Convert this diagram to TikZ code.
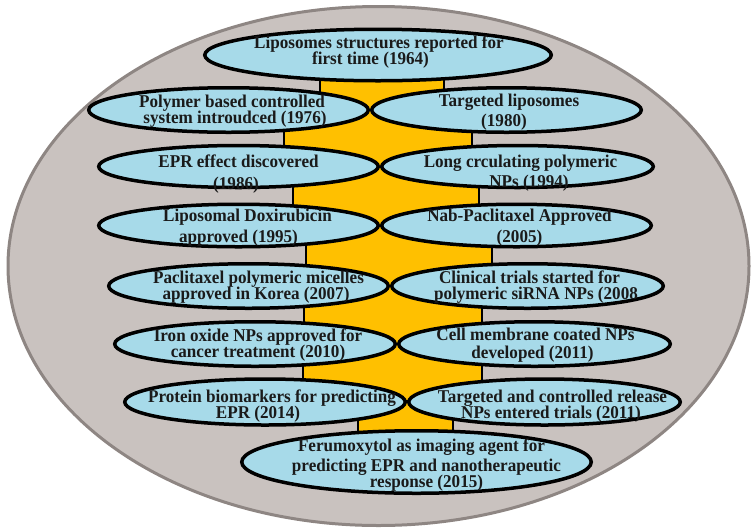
\documentclass[tikz,border=0pt]{standalone}
\usepackage{fontspec}
\setmainfont{Liberation Serif}[FakeStretch=0.95]
\usetikzlibrary{shapes.geometric}
\definecolor{bgfill}{HTML}{C9C2BF}
\definecolor{bgline}{HTML}{8E8683}
\definecolor{boxfill}{HTML}{A7DAE9}
\definecolor{band}{HTML}{FFC000}
\definecolor{txt}{HTML}{1A1A1A}
\newcommand\tl[3]{\makebox[0pt]{\raisebox{\dimexpr-#2pt\relax}[0pt][0pt]{\hspace*{#1pt}\hspace*{#1pt}#3}}}
\tikzset{
  evt/.style={ellipse, draw=black, line width=3.5pt, fill=boxfill, inner sep=0pt, outer sep=0pt,
    minimum height=44.5pt, text=txt, font=\fontsize{18}{18}\selectfont\bfseries},
  bandrect/.style={fill=band, draw=black, line width=2.5pt},
  outer/.style={fill=bgfill, draw=bgline, line width=3pt}
}
\begin{document}
\begin{tikzpicture}[x=1pt,y=-1pt]
\useasboundingbox (0,0) rectangle (755,531);
\draw[outer] (378.5,266) ellipse [x radius=370.5pt, y radius=259.5pt];
% yellow band pieces
\filldraw[bandrect] (320,55) rectangle (444,110);
\filldraw[bandrect] (284,110) rectangle (472,167);
\filldraw[bandrect] (293,167) rectangle (479,226);
\filldraw[bandrect] (306,226) rectangle (492,286);
\filldraw[bandrect] (304,286) rectangle (482,344);
\filldraw[bandrect] (303,344) rectangle (482,401);
\filldraw[bandrect] (358,401) rectangle (453,462);
% events
\node[evt, minimum width=346.5pt, minimum height=51.5pt] (e1964) at (378,55)
  {\tl{1}{-7}{Liposomes structures reported for}\tl{-7.5}{9}{first time (1964)}};
\node[evt, minimum width=279.5pt] (e1976) at (228.5,110)
  {\tl{3.5}{-3}{Polymer based controlled}\tl{6.5}{13}{system introudced (1976)}};
\node[evt, minimum width=269.5pt] (e1980) at (506.5,110)
  {\tl{2.5}{-4}{Targeted liposomes}\tl{-2.5}{16}{(1980)}};
\node[evt, minimum width=279.5pt, minimum height=42pt] (e1986) at (238.5,166.5)
  {\tl{0}{1}{EPR effect discovered}\tl{-2.5}{23}{(1986)}};
\node[evt, minimum width=271.5pt, minimum height=42pt] (e1994) at (517.5,166.5)
  {\tl{3}{1}{Long crculating polymeric}\tl{11.5}{21}{NPs (1994)}};
\node[evt, minimum width=279.5pt, minimum height=42.5pt] (e1995) at (238.5,225.5)
  {\tl{9}{-4}{Liposomal Doxirubicin}\tl{0}{17}{approved (1995)}};
\node[evt, minimum width=269.5pt, minimum height=42.5pt] (e2005) at (516.5,225.5)
  {\tl{3}{-4}{Nab-Paclitaxel Approved}\tl{3}{17}{(2005)}};
\node[evt, minimum width=279.5pt] (e2007) at (248.5,286)
  {\tl{10}{-3}{Paclitaxel polymeric micelles}\tl{7.5}{13}{approved in Korea (2007)}};
\node[evt, minimum width=271.5pt] (e2008) at (527.5,286)
  {\tl{2}{-3}{Clinical trials started for}\tl{8.5}{13}{polymeric siRNA NPs (2008}};
\node[evt, minimum width=280.5pt] (e2010) at (255,344)
  {\tl{3}{-3}{Iron oxide NPs approved for}\tl{3}{13}{cancer treatment (2010)}};
\node[evt, minimum width=271.5pt] (e2011a) at (534.5,344)
  {\tl{1}{-4}{Cell membrane coated NPs}\tl{-2}{14}{developed (2011)}};
\node[evt, minimum width=280.5pt, minimum height=46pt] (e2014) at (265,402)
  {\tl{7}{0}{Protein biomarkers for predicting}\tl{-7}{16}{EPR (2014)}};
\node[evt, minimum width=271.5pt, minimum height=46pt] (e2011b) at (544.5,402)
  {\tl{8}{0}{Targeted and controlled release}\tl{6.5}{16}{NPs entered trials (2011)}};
\node[evt, minimum width=349.5pt, minimum height=62.5pt] (e2015) at (416.5,462)
  {\tl{5}{-10.5}{Ferumoxytol as imaging agent for}\tl{10}{9}{predicting EPR and nanotherapeutic}\tl{10}{25}{response (2015)}};
\end{tikzpicture}
\end{document}
